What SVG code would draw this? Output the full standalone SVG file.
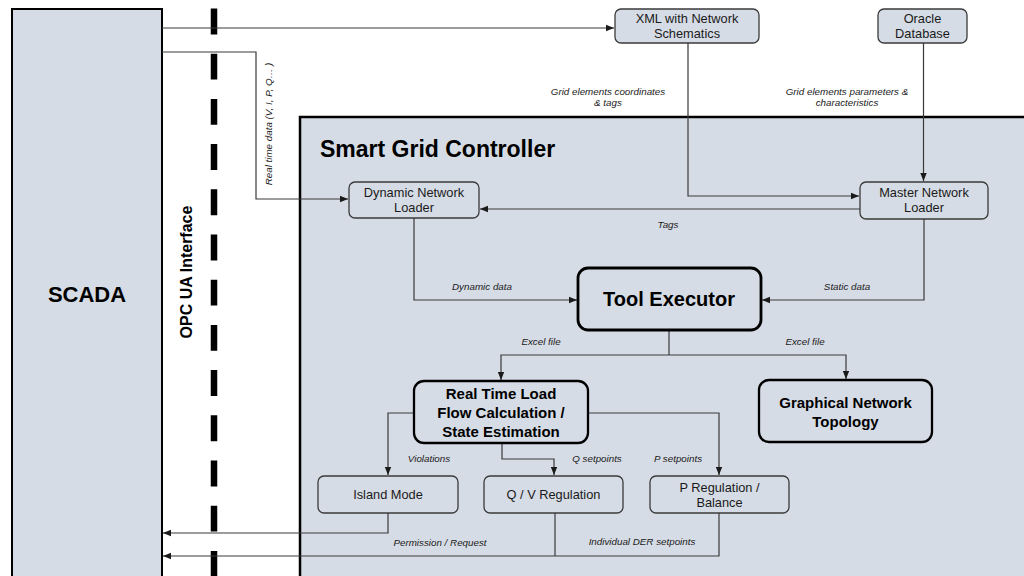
<svg xmlns="http://www.w3.org/2000/svg" width="1024" height="576" viewBox="0 0 1024 576">
  <defs>
    <marker id="arr" viewBox="0 0 8 8" refX="8" refY="4" markerWidth="8" markerHeight="8" markerUnits="userSpaceOnUse" orient="auto">
      <path d="M0,0.8 L8,4 L0,7.2 Z" fill="#1a1a1a"/>
    </marker>
    <style>
      .panel { fill: #d6dce5; stroke: #000; stroke-width: 2.5; }
      .box { fill: #d6dce5; stroke: #3a3a3a; stroke-width: 1.3; }
      .bold-box { fill: #d6dce5; stroke: #000; stroke-width: 2.8; }
      .conn { fill: none; stroke: #3a3a3a; stroke-width: 1.2; }
      .arrow { marker-end: url(#arr); }
      .t { font-family: "Liberation Sans", Arial, sans-serif; font-size: 12.8px; fill: #1a1a1a; text-anchor: middle; }
      .tb { font-family: "Liberation Sans", Arial, sans-serif; font-weight: bold; fill: #000; text-anchor: middle; }
      .lbl { font-family: "Liberation Sans", Arial, sans-serif; font-style: italic; font-size: 9.8px; fill: #1a1a1a; text-anchor: middle; }
    </style>
  </defs>

  <rect width="1024" height="576" fill="#fff"/>

  <!-- SCADA block -->
  <g id="scada">
    <rect class="panel" x="12" y="9" width="150" height="600" style="stroke-width:2"/>
    <text class="tb" x="87" y="302" font-size="22">SCADA</text>
  </g>

  <!-- OPC UA interface boundary -->
  <g id="opc-ua">
    <line x1="214" y1="8.5" x2="214" y2="580" stroke="#000" stroke-width="6.5" stroke-dasharray="25.9 19.3"/>
    <text class="tb" x="192" y="272" font-size="16" transform="rotate(-90 192 272)">OPC UA Interface</text>
  </g>

  <!-- Smart Grid Controller container -->
  <g id="smart-grid-controller">
    <rect class="panel" x="300" y="117" width="740" height="480"/>
    <text class="tb" x="320" y="157" font-size="23" text-anchor="start" style="text-anchor:start">Smart Grid Controller</text>
  </g>

  <!-- Connectors -->
  <g id="connectors">
    <path class="conn arrow" d="M162,28 H614"/>
    <path class="conn arrow" d="M162,52 H256 V199 H348"/>
    <path class="conn arrow" d="M688,43 V196 H859"/>
    <path class="conn arrow" d="M923.5,43 V181"/>
    <path class="conn arrow" d="M860,209 H480"/>
    <path class="conn arrow" d="M414,218 V300 H577"/>
    <path class="conn arrow" d="M924,219 V300 H762"/>
    <path class="conn" d="M669,331 V355"/>
    <path class="conn arrow" d="M669,355 H501 V380"/>
    <path class="conn arrow" d="M669,355 H846 V379"/>
    <path class="conn arrow" d="M414,413 H388 V475"/>
    <path class="conn arrow" d="M588,413 H719 V475"/>
    <path class="conn arrow" d="M502,443 V459 H554 V475"/>
    <path class="conn arrow" d="M388,513 V533 H163"/>
    <path class="conn" d="M555,513 V556"/>
    <path class="conn arrow" d="M719,513 V556 H163"/>

    <g transform="rotate(-90 272 124)"><text class="lbl" x="272" y="124">Real time data (V, I, P, Q… )</text></g>
    <text class="lbl" x="608" y="95">Grid elements coordinates</text>
    <text class="lbl" x="608" y="106">&amp; tags</text>
    <text class="lbl" x="847" y="95">Grid elements parameters &amp;</text>
    <text class="lbl" x="847" y="106">characteristics</text>
    <text class="lbl" x="668" y="228">Tags</text>
    <text class="lbl" x="482" y="290">Dynamic data</text>
    <text class="lbl" x="847" y="290">Static data</text>
    <text class="lbl" x="541" y="345">Excel file</text>
    <text class="lbl" x="805" y="345">Excel file</text>
    <text class="lbl" x="429" y="462">Violations</text>
    <text class="lbl" x="597" y="462">Q setpoints</text>
    <text class="lbl" x="678" y="462">P setpoints</text>
    <text class="lbl" x="440" y="546">Permission / Request</text>
    <text class="lbl" x="642" y="545">Individual DER setpoints</text>
  </g>

  <!-- Nodes -->
  <g id="xml-schematics">
    <rect class="box" x="615" y="9" width="144" height="34" rx="6"/>
    <text class="t" x="687" y="22.5">XML with Network</text>
    <text class="t" x="687" y="37.5">Schematics</text>
  </g>
  <g id="oracle-db">
    <rect class="box" x="878" y="9" width="89" height="34" rx="6"/>
    <text class="t" x="922.5" y="22.5">Oracle</text>
    <text class="t" x="922.5" y="37.5">Database</text>
  </g>
  <g id="dynamic-loader">
    <rect class="box" x="349" y="182" width="130" height="36" rx="6"/>
    <text class="t" x="414" y="196.5">Dynamic Network</text>
    <text class="t" x="414" y="211.5">Loader</text>
  </g>
  <g id="master-loader">
    <rect class="box" x="860" y="182" width="128" height="37" rx="6"/>
    <text class="t" x="924" y="196.5">Master Network</text>
    <text class="t" x="924" y="211.5">Loader</text>
  </g>
  <g id="tool-executor">
    <rect class="bold-box" x="578" y="268" width="183" height="62" rx="10"/>
    <text class="tb" x="669" y="306" font-size="20">Tool Executor</text>
  </g>
  <g id="load-flow">
    <rect class="bold-box" x="414" y="381" width="174" height="62" rx="10" style="stroke-width:2.3"/>
    <text class="tb" x="501" y="399" font-size="15">Real Time Load</text>
    <text class="tb" x="501" y="418" font-size="15">Flow Calculation /</text>
    <text class="tb" x="501" y="437" font-size="15">State Estimation</text>
  </g>
  <g id="network-topology">
    <rect class="bold-box" x="759" y="380" width="173" height="62" rx="10" style="stroke-width:2.3"/>
    <text class="tb" x="845.5" y="408" font-size="15">Graphical Network</text>
    <text class="tb" x="845.5" y="427" font-size="15">Topology</text>
  </g>
  <g id="island-mode">
    <rect class="box" x="318" y="476" width="140" height="37" rx="6"/>
    <text class="t" x="388" y="498.5">Island Mode</text>
  </g>
  <g id="qv-regulation">
    <rect class="box" x="484" y="476" width="139" height="37" rx="6"/>
    <text class="t" x="553.5" y="498.5">Q / V Regulation</text>
  </g>
  <g id="p-regulation">
    <rect class="box" x="650" y="476" width="139" height="37" rx="6"/>
    <text class="t" x="719.5" y="491.5">P Regulation /</text>
    <text class="t" x="719.5" y="506.5">Balance</text>
  </g>
</svg>
